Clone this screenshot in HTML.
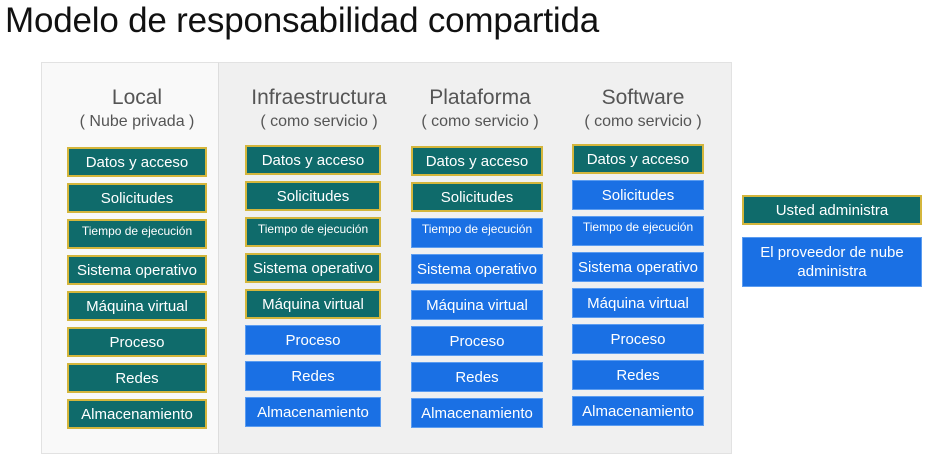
<!DOCTYPE html>
<html><head><meta charset="utf-8"><style>
body{margin:0;width:945px;height:459px;background:#fff;position:relative;overflow:hidden;font-family:"Liberation Sans",sans-serif}
.t{position:absolute;left:5px;top:1px;font-size:35px;color:#111;letter-spacing:-0.2px}
.p1{position:absolute;left:41px;top:62px;width:177px;height:390px;background:#f9f9f9;border:1px solid #e2e2e2;border-right:none}
.p2{position:absolute;left:218px;top:62px;width:512px;height:390px;background:#f0f0f0;border:1px solid #e2e2e2;border-left:1px solid #ddd}
.h{position:absolute;text-align:center;color:#555;font-size:21px;line-height:22px}
.h span{display:block;font-size:16px;margin-top:2px}
.b{position:absolute;height:30px;box-sizing:border-box;color:#fff;font-size:15px;display:flex;align-items:center;justify-content:center;text-align:center;white-space:nowrap}
.g{background:#0f6b6b;border:2px solid #d4b63c}
.u{background:#1a70e4;border:1px solid #5b9cf0}
.s{font-size:12px;align-items:flex-start;padding-top:3px}
</style></head><body>
<div class="t">Modelo de responsabilidad compartida</div>
<div class="p1"></div><div class="p2"></div>
<div class="h" style="left:67px;width:140px;top:87px">Local<span>( Nube privada )</span></div>
<div class="h" style="left:236px;width:166px;top:87px">Infraestructura<span>( como servicio )</span></div>
<div class="h" style="left:402px;width:156px;top:87px">Plataforma<span>( como servicio )</span></div>
<div class="h" style="left:565px;width:156px;top:87px">Software<span>( como servicio )</span></div>
<div id="c"></div>
<div class="b g" style="left:742px;top:195px;width:180px;height:30px">Usted administra</div>
<div class="b u" style="left:742px;top:237px;width:180px;height:50px;white-space:normal;line-height:19px">El proveedor de nube administra</div>
<script>
var labels=["Datos y acceso","Solicitudes","Tiempo de ejecución","Sistema operativo","Máquina virtual","Proceso","Redes","Almacenamiento"];
var cols=[[67,140,147,8],[245,136,145,5],[411,132,146,2],[572,132,144,1]];
var h="";
cols.forEach(function(c){for(var i=0;i<8;i++){var cl=(i<c[3]?"g":"u")+(i==2?" s":"");
h+='<div class="b '+cl+'" style="left:'+c[0]+'px;width:'+c[1]+'px;top:'+(c[2]+i*36)+'px">'+labels[i]+'</div>';}});
document.getElementById("c").innerHTML=h;
</script>
</body></html>
